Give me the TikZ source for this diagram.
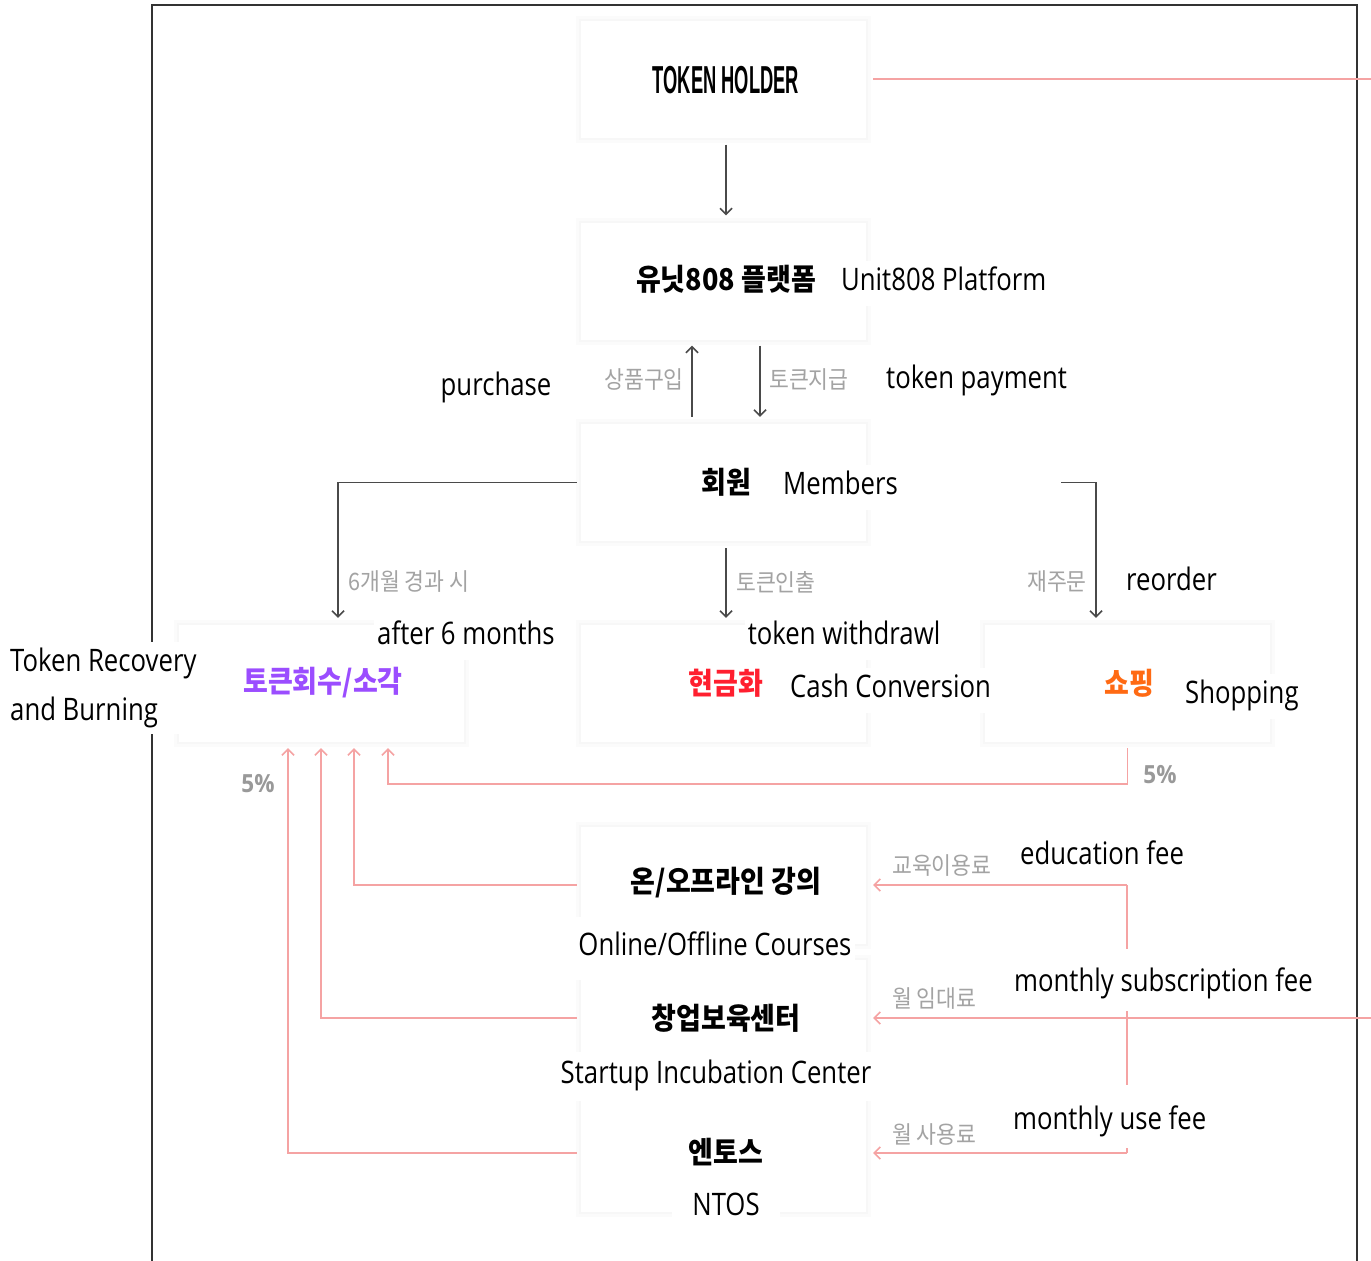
\documentclass[tikz,border=0pt]{standalone}
\usepackage{fontspec}
\usepackage{graphicx}
\setmainfont{Open Sans}
\newfontfamily\krf{Noto Sans CJK KR}
\newfontfamily\thf{Liberation Sans}
\usetikzlibrary{arrows.meta,calc}
\definecolor{dk}{HTML}{4A4A4A}
\definecolor{pk}{HTML}{F5A3A3}
\definecolor{lbl}{HTML}{A3A3A3}
\definecolor{pct}{HTML}{999999}
\definecolor{purp}{HTML}{9B4DFF}
\definecolor{redc}{HTML}{FF1F2F}
\definecolor{orc}{HTML}{FF6A13}
\definecolor{frm}{HTML}{333333}
\newcommand\sq[1]{\scalebox{0.83}[1]{#1}}
\newcommand\sk[1]{\scalebox{0.9}[1]{#1}}
\tikzset{
  boxn/.style={rectangle, minimum width=285pt, minimum height=117pt, inner sep=0pt,
    fill=white, preaction={draw=black!1.5, line width=10pt},
    preaction={draw=black!3, line width=4pt}},
  en/.style={font=\fontsize{31}{36}\selectfont, inner xsep=3pt, inner ysep=8pt,
    fill=white, text height=22pt, text depth=7pt},
  kt/.style={font=\krf\bfseries\fontsize{30}{34}\selectfont, inner sep=0pt},
  gl/.style={font=\krf\fontsize{24}{26}\selectfont, text=lbl, inner sep=0pt},
  pc/.style={font=\bfseries\fontsize{25}{27}\selectfont, text=pct, inner sep=0pt},
  dl/.style={draw=dk, line width=1.5pt, -{Straight Barb[length=6pt,width=12pt]}},
  pl/.style={draw=pk, line width=1.5pt},
  pa/.style={draw=pk, line width=1.5pt, -{Straight Barb[length=6pt,width=12pt]}},
}
\begin{document}
\begin{tikzpicture}[x=1pt,y=-1pt]
\useasboundingbox[fill=white] (0,0) rectangle (1371,1261);
% frame
\draw[frm, line width=1.5pt] (152,1261) -- (152,5) -- (1357,5) -- (1357,1261);
% boxes
\node[boxn] (th) at (723.5,79) {};
\node[boxn] (pf) at (723.5,281) {};
\node[boxn] (mb) at (723.5,482.5) {};
\node[boxn] (tr) at (321,683.5) {};
\node[boxn] (cc) at (723.5,683.5) {};
\node[boxn] (sh) at (1127.5,683.5) {};
\node[boxn] (oc) at (723.5,885) {};
\node[boxn] (sc) at (723.5,1018) {};
\node[boxn] (nt) at (723.5,1153) {};
% coordinates
\coordinate (thR) at (1371,79);
\coordinate (r5) at (1127.5,784);
\coordinate (fa) at (1127,885);
\coordinate (fb) at (1127,1153);
\coordinate (scR) at (1371,1018);
% dark connectors
\draw[dl, shorten <=7pt, shorten >=7pt] ([xshift=2.5pt]th.south) -- ([xshift=2.5pt]pf.north);
\draw[dl, shorten <=7pt, shorten >=6pt] ([xshift=-31.5pt]mb.north) -- ([xshift=-31.5pt]pf.south);
\draw[dl, shorten <=6pt, shorten >=7pt] ([xshift=36.5pt]pf.south) -- ([xshift=36.5pt]mb.north);
\draw[dl, shorten >=7pt] ([xshift=-4pt]mb.west) -| ([xshift=17pt]tr.north);
\draw[dl, shorten <=7pt, shorten >=7pt] ([xshift=2.5pt]mb.south) -- ([xshift=2.5pt]cc.north);
\draw[dl, shorten >=7pt] ([xshift=195pt]mb.east) -| ([xshift=-31.5pt]sh.north);
% pink connectors
\draw[pl, shorten <=7pt] (th.east) -- (thR);
\draw[pa, shorten >=6pt] ([yshift=-6pt]sh.south) -- (r5) -| ([xshift=67pt]tr.south);
\draw[pa, shorten >=6pt] ([xshift=-4pt]oc.west) -| ([xshift=33pt]tr.south);
\draw[pa, shorten >=6pt] ([xshift=-4pt]sc.west) -| (tr.south);
\draw[pa, shorten >=6pt] ([xshift=-4pt]nt.west) -| ([xshift=-33pt]tr.south);
\draw[pl] (fa) -- (fb);
\draw[pa, shorten >=7pt] (fa) -- (oc.east);
\draw[pa, shorten >=7pt] (scR) -- (sc.east);
\draw[pa, shorten >=7pt] (fb) -- (nt.east);
% titles
\node[font=\thf\bfseries\fontsize{39}{40}\selectfont, inner sep=0pt] (tht) at (726,80) {\scalebox{0.47}[1]{TOKEN HOLDER}};
\node[kt] (pft) at (726,279) {\sk{유닛808 플랫폼}};
\node[kt] (mbt) at (726,482) {\sk{회원}};
\node[kt, text=purp] (trt) at (323,683) {\sk{토큰회수/소각}};
\node[kt, text=redc] (cct) at (726,683) {\sk{현금화}};
\node[kt, text=orc] (sht) at (1129,683) {\sk{쇼핑}};
\node[kt] (oct) at (726,883) {\sk{온/오프라인 강의}};
\node[kt] (sct) at (726,1018) {\sk{창업보육센터}};
\node[kt] (ntt) at (726,1152) {\sk{엔토스}};
% gray labels
\node[gl, anchor=east] (l1) at (684,380) {\sk{상품구입}};
\node[gl, anchor=west] (l2) at (769,380) {\sk{토큰지급}};
\node[gl, anchor=west] (l3) at (348,582) {\sk{6개월 경과 시}};
\node[gl, anchor=west] (l4) at (736,582) {\sk{토큰인출}};
\node[gl, anchor=east] (l5) at (1087,582) {\sk{재주문}};
\node[gl, anchor=west] (l6) at (892,866) {\sk{교육이용료}};
\node[gl, anchor=west] (l7) at (892,998) {\sk{월 임대료}};
\node[gl, anchor=west] (l8) at (892,1134) {\sk{월 사용료}};
\node[pc] (p1) at (258,784) {\sk{5\%}};
\node[pc] (p2) at (1160,775) {\sk{5\%}};
% english labels
\node[en, anchor=west] (e1) at (838,283) {\sq{Unit808 Platform}};
\node[en] (e2) at (496,388) {\sq{purchase}};
\node[en, anchor=west] (e3) at (883,381) {\sq{token payment}};
\node[en, anchor=west] (e4) at (780,487) {\sq{Members}};
\node[en] (e5) at (466,637) {\sq{after 6 months}};
\node[en] (e6) at (844,637) {\sq{token withdrawl}};
\node[en, anchor=west] (e7) at (1123,583) {\sq{reorder}};
\node[en, anchor=north west, align=left, inner ysep=6pt, font=\fontsize{31}{49}\selectfont, text height=, text depth=] (e8) at (7,642) {\sq{Token Recovery}\\\sq{and Burning}};
\node[en, anchor=west] (e9) at (787,690) {\sq{Cash Conversion}};
\node[en, anchor=west] (e10) at (1182,696) {\sq{Shopping}};
\node[en, anchor=west] (e11) at (1017,857) {\sq{education fee}};
\node[en, inner ysep=17pt] (e12) at (715,948) {\sq{Online/Offline Courses}};
\node[en, anchor=west, inner ysep=13pt, text height=29pt, text depth=7pt] (e13) at (1011,980) {\sq{monthly subscription fee}};
\node[en, inner ysep=10pt] (e14) at (716,1076) {\sq{Startup Incubation Center}};
\node[en, anchor=west, inner ysep=13pt, text height=31pt, text depth=6pt] (e15) at (1010,1116.5) {\sq{monthly use fee}};
\node[en, inner xsep=20pt] (e16) at (726,1208) {\sq{NTOS}};
\end{tikzpicture}
\end{document}
